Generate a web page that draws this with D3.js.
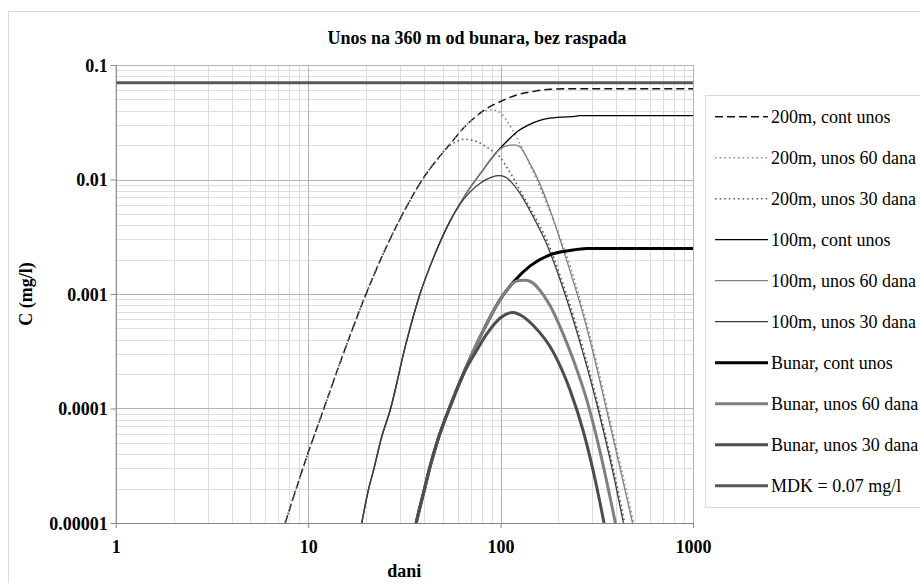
<!DOCTYPE html>
<html>
<head>
<meta charset="utf-8">
<script src="https://cdn.jsdelivr.net/npm/d3@7"></script>
<style>
html,body{margin:0;padding:0;background:#fff;}
svg{display:block;}
</style>
</head>
<body>
<svg id="chart" width="920" height="583"></svg>
<script>
// ---------------- DATA ----------------
const chartTitle = "Unos na 360 m od bunara, bez raspada";
const xTitle = "dani";
const yTitle = "C (mg/l)";
const xTickValues = [1, 10, 100, 1000];
const xTickLabels = ["1", "10", "100", "1000"];
const yTickValues = [0.1, 0.01, 0.001, 0.0001, 0.00001];
const yTickLabels = ["0.1", "0.01", "0.001", "0.0001", "0.00001"];

const seriesNames = [
  "200m, cont unos", "200m, unos 60 dana", "200m, unos 30 dana",
  "100m, cont unos", "100m, unos 60 dana", "100m, unos 30 dana",
  "Bunar, cont unos", "Bunar, unos 60 dana", "Bunar, unos 30 dana",
  "MDK = 0.07 mg/l"
];

// [days, C mg/l]
const c200Cont = [[7.6,1e-5],[8.5,1.8e-5],[10,4.1e-5],[12,9.7e-5],[15,2.8e-4],[20,1.0e-3],[25,2.4e-3],[32.5,5.8e-3],[40,1.05e-2],[46.6,1.48e-2],[55,2.07e-2],[64,2.8e-2],[75,3.59e-2],[88,4.33e-2],[100,4.8e-2],[121,5.47e-2],[150,5.9e-2],[181,6.14e-2],[250,6.21e-2],[1000,6.21e-2]];
const c200U60 = [[7.6,1e-5],[8.5,1.8e-5],[10,4.1e-5],[12,9.7e-5],[15,2.8e-4],[20,1.0e-3],[25,2.4e-3],[32.5,5.8e-3],[40,1.05e-2],[46.6,1.48e-2],[55,2.07e-2],[64,2.8e-2],[75,3.59e-2],[82,3.93e-2],[88,4.05e-2],[95,4.0e-2],[100,3.8e-2],[110,3.1e-2],[120,2.4e-2],[130,1.85e-2],[140,1.42e-2],[150,1.1e-2],[166,7.4e-3],[188,4.4e-3],[220,2.2e-3],[270,7.0e-4],[310,2.85e-4],[354,1.1e-4],[420,3.2e-5],[492,1e-5]];
const c200U30 = [[7.6,1e-5],[8.5,1.8e-5],[10,4.1e-5],[12,9.7e-5],[15,2.8e-4],[20,1.0e-3],[25,2.4e-3],[32.5,5.8e-3],[40,1.05e-2],[46.6,1.48e-2],[52.5,1.87e-2],[59,2.15e-2],[64,2.24e-2],[70,2.22e-2],[78,2.08e-2],[85,1.91e-2],[92,1.75e-2],[100,1.55e-2],[108,1.27e-2],[117,1.02e-2],[126,8.1e-3],[148,5.0e-3],[174,2.95e-3],[212,1.2e-3],[269,3.3e-4],[316,1.2e-4],[385,3.0e-5],[442,1e-5]];

const c100Cont = [[19,1e-5],[20.5,1.9e-5],[22,3.0e-5],[24,5.5e-5],[26.7,9.7e-5],[32,3.5e-4],[38.2,1.01e-3],[45,2.11e-3],[54.7,4.35e-3],[62,6.3e-3],[69.5,8.5e-3],[81,1.21e-2],[95,1.72e-2],[108,2.16e-2],[121,2.59e-2],[140,3.0e-2],[160,3.28e-2],[180,3.43e-2],[204,3.5e-2],[249,3.58e-2],[255,3.61e-2],[1000,3.61e-2]];
const c100U60 = [[19,1e-5],[20.5,1.9e-5],[22,3.0e-5],[24,5.5e-5],[26.7,9.7e-5],[32,3.5e-4],[38.2,1.01e-3],[45,2.11e-3],[54.7,4.35e-3],[62,6.3e-3],[69.5,8.5e-3],[81,1.21e-2],[95,1.72e-2],[101,1.88e-2],[110,1.99e-2],[118,2.01e-2],[126,1.93e-2],[131,1.77e-2],[142,1.38e-2],[154,1.06e-2],[181,5.4e-3],[212,2.42e-3],[270,6.4e-4],[310,2.6e-4],[354,1.0e-4],[420,2.9e-5],[485,1e-5]];
const c100U30 = [[19,1e-5],[20.5,1.9e-5],[22,3.0e-5],[24,5.5e-5],[26.7,9.7e-5],[32,3.5e-4],[38.2,1.01e-3],[45,2.11e-3],[54.7,4.35e-3],[62,6.2e-3],[69.5,7.8e-3],[80,9.5e-3],[90,1.05e-2],[98,1.08e-2],[106,1.05e-2],[115,9.3e-3],[126,7.6e-3],[148,4.7e-3],[174,2.7e-3],[212,1.1e-3],[269,3.0e-4],[316,1.1e-4],[385,2.7e-5],[435,1e-5]];

const cBunarCont = [[36.4,1e-5],[38,1.35e-5],[40,1.9e-5],[43,3.1e-5],[47,5.2e-5],[55,1.07e-4],[66,2.26e-4],[75,3.63e-4],[85,5.56e-4],[100,9.06e-4],[117,1.28e-3],[142,1.75e-3],[181,2.2e-3],[230,2.4e-3],[280,2.5e-3],[1000,2.5e-3]];
const cBunarU60 = [[36.4,1e-5],[38,1.35e-5],[40,1.9e-5],[43,3.1e-5],[47,5.2e-5],[55,1.07e-4],[66,2.26e-4],[75,3.63e-4],[85,5.56e-4],[100,9.06e-4],[117,1.26e-3],[125,1.31e-3],[135,1.32e-3],[145,1.27e-3],[160,1.08e-3],[181,7.9e-4],[210,4.6e-4],[239,2.65e-4],[280,1.2e-4],[330,4.1e-5],[395,1e-5]];
const cBunarU30 = [[36.4,1e-5],[38,1.35e-5],[40,1.9e-5],[43,3.1e-5],[47,5.2e-5],[55,1.07e-4],[66,2.2e-4],[75,3.2e-4],[85,4.5e-4],[100,6.2e-4],[116,6.9e-4],[130,6.4e-4],[148,5.3e-4],[188,3.1e-4],[230,1.44e-4],[270,6.2e-5],[310,2.4e-5],[345,1e-5]];

const cMDK = [[1,0.07],[1000,0.07]];

const seriesData = [c200Cont, c200U60, c200U30, c100Cont, c100U60, c100U30, cBunarCont, cBunarU60, cBunarU30, cMDK];

// ---------------- STYLES ----------------
const seriesStyle = [
  {stroke:"#111", width:1.4, dash:"8,4"},
  {stroke:"#8c8c8c", width:1.6, dash:"1.6,3"},
  {stroke:"#5a5a5a", width:1.6, dash:"1.6,3"},
  {stroke:"#000", width:1.3, dash:null},
  {stroke:"#7f7f7f", width:1.3, dash:null},
  {stroke:"#3c3c3c", width:1.3, dash:null},
  {stroke:"#000", width:3, dash:null},
  {stroke:"#7f7f7f", width:3, dash:null},
  {stroke:"#4d4d4d", width:3, dash:null},
  {stroke:"#595959", width:3, dash:null}
];

const W = 920, H = 583;
const plot = {left:115.7, right:693, top:65, bottom:523};
const serif = "'Liberation Serif','Times New Roman',serif";

const svg = d3.select("#chart");

// outer chart frame
svg.append("rect").attr("x",8.5).attr("y",11.5).attr("width",W+20).attr("height",H+20)
  .attr("fill","#fff").attr("stroke","#d9d9d9").attr("stroke-width",1);

const x = d3.scaleLog().domain([1,1000]).range([plot.left, plot.right]);
const y = d3.scaleLog().domain([1e-5,0.1]).range([plot.bottom, plot.top]);

const isMajor = v => Math.abs(Math.log10(v) - Math.round(Math.log10(v))) < 1e-9;

// grid
const gGrid = svg.append("g");
const xt = x.ticks(), yt = y.ticks();
[false,true].forEach(major => {
  gGrid.selectAll(null).data(xt.filter(v => isMajor(v) === major)).enter().append("line")
    .attr("x1", d => Math.round(x(d))+0.5).attr("x2", d => Math.round(x(d))+0.5)
    .attr("y1", plot.top).attr("y2", plot.bottom)
    .attr("stroke", major ? "#b3b3b3" : "#dcdcdc").attr("stroke-width",1);
  gGrid.selectAll(null).data(yt.filter(v => isMajor(v) === major)).enter().append("line")
    .attr("y1", d => Math.round(y(d))+0.5).attr("y2", d => Math.round(y(d))+0.5)
    .attr("x1", plot.left).attr("x2", plot.right)
    .attr("stroke", major ? "#b3b3b3" : "#dcdcdc").attr("stroke-width",1);
});

// clip
svg.append("defs").append("clipPath").attr("id","clip")
  .append("rect").attr("x",plot.left).attr("y",plot.top-2)
  .attr("width",plot.right-plot.left).attr("height",plot.bottom-plot.top+2);

const line = d3.line().x(d => x(d[0])).y(d => y(d[1])).curve(d3.curveMonotoneX);
const gSeries = svg.append("g").attr("clip-path","url(#clip)");
seriesData.forEach((data,i) => {
  const st = seriesStyle[i];
  gSeries.append("path").datum(data).attr("d", line)
    .attr("fill","none").attr("stroke",st.stroke).attr("stroke-width",st.width)
    .attr("stroke-dasharray", st.dash).attr("stroke-linejoin","round");
});

// axes
const axisColor = "#868686";
const gx = svg.append("g").attr("transform",`translate(0,${plot.bottom})`)
  .call(d3.axisBottom(x).tickValues(xTickValues).tickFormat((d,i)=>xTickLabels[i]).tickSize(5).tickSizeOuter(0));
const gy = svg.append("g").attr("transform",`translate(${plot.left},0)`)
  .call(d3.axisLeft(y).tickValues(yTickValues).tickFormat((d,i)=>yTickLabels[i]).tickSize(5).tickSizeOuter(0));
[gx,gy].forEach(g => {
  g.select(".domain").attr("stroke",axisColor);
  g.selectAll(".tick line").attr("stroke",axisColor);
  g.selectAll(".tick text").attr("fill","#000").attr("font-family",serif)
    .attr("font-size",18).attr("font-weight","bold");
});
gx.selectAll(".tick text").attr("dy",null).attr("y",30);
gy.selectAll(".tick text").attr("x",-8).attr("dy","0.35em");

// titles
svg.append("text").attr("x",477).attr("y",44).attr("text-anchor","middle")
  .attr("font-family",serif).attr("font-size",18).attr("font-weight","bold").text(chartTitle);
svg.append("text").attr("x",(plot.left+plot.right)/2).attr("y",577).attr("text-anchor","middle")
  .attr("font-family",serif).attr("font-size",18).attr("font-weight","bold").text(xTitle);
svg.append("text").attr("transform",`translate(32,${(plot.top+plot.bottom)/2}) rotate(-90)`)
  .attr("text-anchor","middle").attr("font-family",serif).attr("font-size",18)
  .attr("font-weight","bold").text(yTitle);

// legend
const lg = svg.append("g");
lg.append("rect").attr("x",705.5).attr("y",95.5).attr("width",240).attr("height",412)
  .attr("fill","#fff").attr("stroke","#d9d9d9");
seriesNames.forEach((name,i) => {
  const cy = 116.7 + i*41;
  const st = seriesStyle[i];
  lg.append("line").attr("x1",715).attr("x2",768).attr("y1",cy).attr("y2",cy)
    .attr("stroke",st.stroke).attr("stroke-width",st.width).attr("stroke-dasharray",st.dash);
  lg.append("text").attr("x",771).attr("y",cy).attr("dy","0.35em")
    .attr("font-family",serif).attr("font-size",18).attr("fill","#000").text(name);
});
</script>
</body>
</html>
